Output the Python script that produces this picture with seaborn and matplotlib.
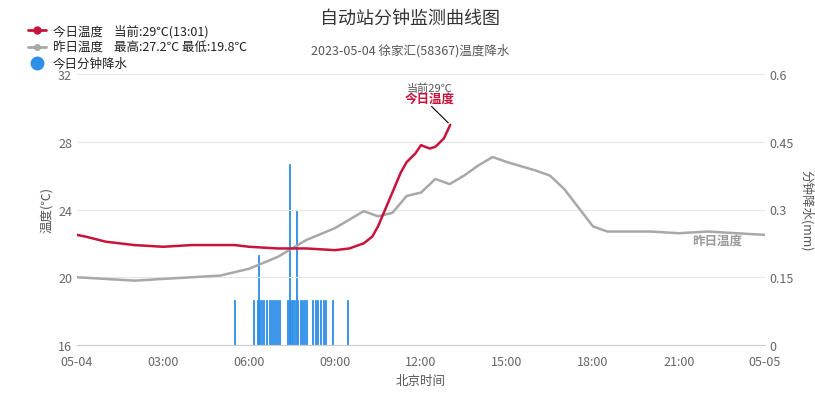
import numpy as np
import pandas as pd
import seaborn as sns
import matplotlib.pyplot as plt
from matplotlib.lines import Line2D

sns.set_style("white")
plt.rcParams['font.family'] = ['Noto Sans CJK SC', 'DejaVu Sans']

# hours since 05-04 00:00
today_h = [0, 0.3, 1, 2, 3, 4, 5, 5.5, 6, 7, 8, 9, 9.5, 10, 10.3, 10.5, 10.8, 11, 11.3, 11.5, 11.8, 12, 12.3, 12.5, 12.8, 13.02]
today_t = [22.5, 22.4, 22.1, 21.9, 21.8, 21.9, 21.9, 21.9, 21.8, 21.7, 21.7, 21.6, 21.7, 22.0, 22.4, 23.0, 24.2, 25.0, 26.2, 26.8, 27.3, 27.8, 27.6, 27.7, 28.2, 29.0]
yest_h = [0, 1, 2, 3, 4, 5, 6, 7, 7.5, 8, 9, 10, 10.5, 11, 11.5, 12, 12.5, 13, 13.5, 14, 14.5, 15, 16, 16.5, 17, 17.5, 18, 18.5, 19, 20, 21, 22, 23, 24]
yest_t = [20.0, 19.9, 19.8, 19.9, 20.0, 20.1, 20.5, 21.2, 21.7, 22.2, 22.9, 23.9, 23.6, 23.8, 24.8, 25.0, 25.8, 25.5, 26.0, 26.6, 27.1, 26.8, 26.3, 26.0, 25.2, 24.1, 23.0, 22.7, 22.7, 22.7, 22.6, 22.7, 22.6, 22.5]
rain_h = [5.48, 6.17, 6.28, 6.33, 6.38, 6.45, 6.52, 6.6, 6.7, 6.78, 6.85, 6.92, 7.0, 7.05,
          7.36, 7.4, 7.43, 7.48, 7.53, 7.58, 7.64, 7.7, 7.78, 7.85, 7.92, 8.0,
          8.23, 8.32, 8.4, 8.5, 8.6, 8.68, 8.9, 9.45]
rain_mm = [0.1, 0.1, 0.1, 0.2, 0.1, 0.1, 0.1, 0.1, 0.1, 0.1, 0.1, 0.1, 0.1, 0.1,
           0.1, 0.1, 0.4, 0.1, 0.1, 0.1, 0.3, 0.1, 0.1, 0.1, 0.1, 0.1,
           0.1, 0.1, 0.1, 0.1, 0.1, 0.1, 0.1, 0.1]
xtick_h = [0, 3, 6, 9, 12, 15, 18, 21, 24]
xtick_lab = ['05-04', '03:00', '06:00', '09:00', '12:00', '15:00', '18:00', '21:00', '05-05']

red, gray, blue = '#c8143c', '#a8a8a8', '#2e8fe8'

fig = plt.figure(figsize=(8.15, 4.02), dpi=100)
ax = fig.add_axes([77/815, 56/402, 688/815, 271/402])
ax2 = ax.twinx()

ax2.bar(rain_h, rain_mm, width=0.035, color=blue, edgecolor=blue, linewidth=0.6, align='center')
ax2.set_ylim(0, 0.6)
ax2.set_yticks([0, 0.15, 0.3, 0.45, 0.6])
ax2.set_yticklabels(['0', '0.15', '0.3', '0.45', '0.6'])
ax2.set_ylabel('分钟降水(mm)', rotation=-90, labelpad=14, color='#555555', fontsize=9)

sns.lineplot(x=yest_h, y=yest_t, ax=ax, color=gray, lw=1.8)
sns.lineplot(x=today_h, y=today_t, ax=ax, color=red, lw=1.8)
ax.set_zorder(ax2.get_zorder() + 1)
ax.patch.set_visible(False)

ax.set_xlim(0, 24)
ax.set_ylim(16, 32)
ax.set_yticks([16, 20, 24, 28, 32])
ax.set_xticks(xtick_h)
ax.set_xticklabels(xtick_lab)
ax.yaxis.grid(True, color='#e6e6e6', lw=0.8)
ax.set_ylabel('温度(℃)', color='#555555', fontsize=9)
ax.set_xlabel('北京时间', color='#555555', fontsize=9)
for a in (ax, ax2):
    for s in a.spines.values():
        s.set_visible(False)
    a.tick_params(colors='#666666', labelsize=9, length=0)
ax.spines['bottom'].set_visible(True)
ax.spines['bottom'].set_color('#cccccc')
ax.tick_params(axis='x', length=4, color='#cccccc')

ax.annotate('', xy=(13.02, 29.0), xytext=(12.3, 30.2), arrowprops=dict(arrowstyle='-', color='black', lw=0.8))
ax.text(12.3, 31.0, '当前29℃', ha='center', fontsize=8, color='#555555')
ax.text(12.3, 30.3, '今日温度', ha='center', fontsize=9, color=red, fontweight='bold')
ax.text(23.2, 22.0, '昨日温度', ha='right', fontsize=9, color='#999999', fontweight='bold')

fig.text(0.503, 0.94, '自动站分钟监测曲线图', ha='center', fontsize=13, color='#333333')
fig.text(0.503, 0.865, '2023-05-04 徐家汇(58367)温度降水', ha='center', fontsize=9, color='#555555')

handles = [Line2D([], [], color=red, marker='o', lw=2, ms=5),
           Line2D([], [], color=gray, marker='o', lw=2, ms=4),
           Line2D([], [], color=blue, marker='o', lw=0, ms=9)]
labels = ['今日温度    当前:29℃(13:01)', '昨日温度    最高:27.2℃ 最低:19.8℃', '今日分钟降水']
leg = fig.legend(handles, labels, loc='upper left', bbox_to_anchor=(0.02, 0.965), frameon=False,
                 fontsize=9, handlelength=1.5, labelspacing=0.25, handletextpad=0.5)
for t in leg.get_texts():
    t.set_fontweight('medium')
    t.set_color('#222222')

fig.savefig('out.png', dpi=100)
